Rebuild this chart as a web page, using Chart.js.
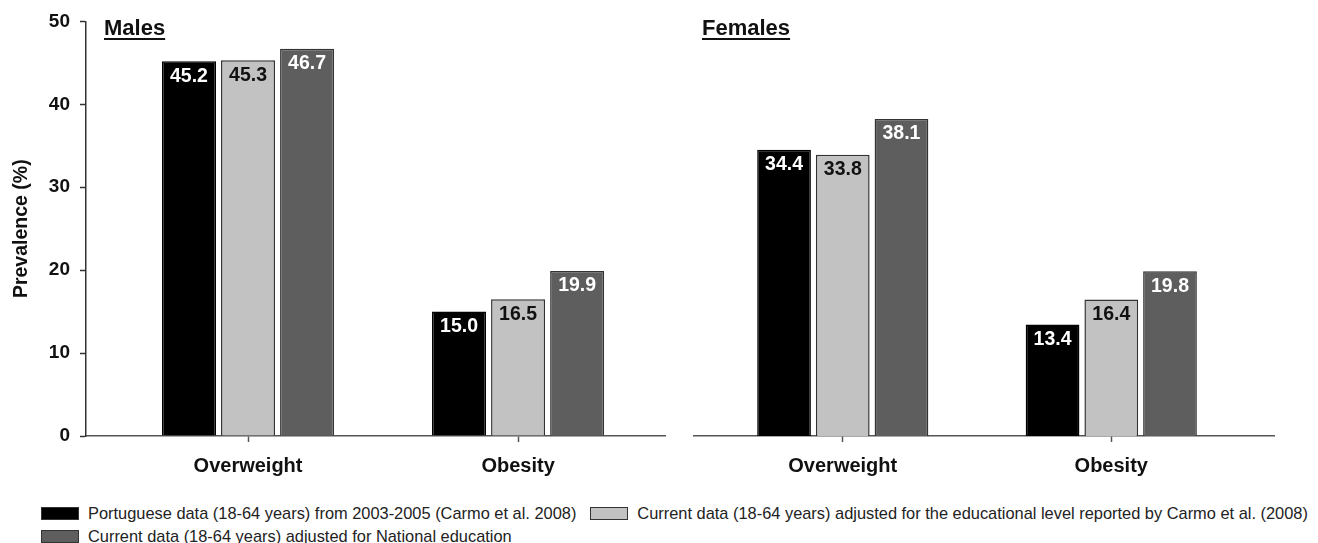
<!DOCTYPE html>
<html>
<head>
<meta charset="utf-8">
<script src="https://cdn.jsdelivr.net/npm/chart.js@4.4.1/dist/chart.umd.min.js"></script>
<style>
  body { margin: 0; background: #fff; width: 1318px; height: 543px; position: relative; overflow: hidden;
         font-family: Arial, "Liberation Sans", sans-serif; color: #111; }
  .panel { position: absolute; top: 0; height: 480px; }
  .title { position: absolute; top: 17px; font-weight: bold; font-size: 22px; line-height: 22px;
           text-decoration: underline; text-underline-offset: 3px; color: #111; }
  #legend { position: absolute; left: 41px; top: 502px; font-size: 16.4px; color: #222; white-space: nowrap; }
  .row { display: flex; align-items: center; height: 23px; }
  .item { display: flex; align-items: center; margin-right: 14px; }
  .box { width: 36px; height: 11px; border: 1px solid #333; margin-right: 9px; }
</style>
</head>
<body>
<div class="panel" style="left:0;width:680px"><canvas id="males"></canvas></div>
<div class="panel" style="left:680px;width:638px"><canvas id="females"></canvas></div>
<div class="title" style="left:104px">Males</div>
<div class="title" style="left:702px">Females</div>
<div id="legend"></div>

<script>
// categorias e séries
const categories = ['Overweight', 'Obesity'];
const seriesNames = [
  'Portuguese data (18-64 years) from 2003-2005 (Carmo et al. 2008)',
  'Current data (18-64 years) adjusted for the educational level reported by Carmo et al. (2008)',
  'Current data (18-64 years) adjusted for National education'
];
const malesCarmo2008 = [45.2, 15.0];
const malesAdjCarmo = [45.3, 16.5];
const malesAdjNational = [46.7, 19.9];
const femalesCarmo2008 = [34.4, 13.4];
const femalesAdjCarmo = [33.8, 16.4];
const femalesAdjNational = [38.1, 19.8];
const yTicks = [0, 10, 20, 30, 40, 50];

const fills = ['#000000', '#c2c2c2', '#5e5e5e'];
const borders = ['#000000', '#333333', '#333333'];
const labelColors = ['#ffffff', '#111111', '#ffffff'];

function makeDatasets(seriesValues) {
  return seriesValues.map((values, i) => ({
    label: seriesNames[i],
    data: values.map((v, j) => ({ x: j + 1, y: v })),
    backgroundColor: fills[i],
    borderColor: borders[i],
    borderWidth: 1.5,
    labelColor: labelColors[i],
    barPercentage: 0.915,
    categoryPercentage: 0.656
  }));
}

// rótulos de valor dentro das barras
const valueLabels = {
  id: 'valueLabels',
  afterDatasetsDraw(chart) {
    const ctx = chart.ctx;
    ctx.save();
    ctx.font = 'bold 19.5px Arial, "Liberation Sans"';
    ctx.textAlign = 'center';
    ctx.textBaseline = 'middle';
    chart.data.datasets.forEach((ds, i) => {
      chart.getDatasetMeta(i).data.forEach((bar, j) => {
        ctx.fillStyle = ds.labelColor;
        ctx.fillText(ds.data[j].y.toFixed(1), bar.x, bar.y + 15);
      });
    });
    ctx.restore();
  }
};

function makeChart(id, seriesValues, opts) {
  return new Chart(document.getElementById(id), {
    type: 'bar',
    data: { datasets: makeDatasets(seriesValues) },
    plugins: [valueLabels],
    options: {
      responsive: true,
      maintainAspectRatio: false,
      animation: false,
      layout: { padding: opts.padding },
      plugins: { legend: { display: false }, tooltip: { enabled: false } },
      scales: {
        x: {
          type: 'linear',
          min: opts.xMin,
          max: opts.xMax,
          offset: false,
          afterBuildTicks: s => { s.ticks = categories.map((c, i) => ({ value: i + 1 })); },
          afterFit: s => { s.height = 44; },
          ticks: {
            callback: v => categories[v - 1],
            font: { family: 'Arial, "Liberation Sans"', size: 20, weight: 'bold' },
            color: '#111',
            padding: 12,
            maxRotation: 0
          },
          grid: { display: true, drawOnChartArea: false, offset: false, tickLength: 6, tickColor: '#555', tickWidth: 1.5 },
          border: { color: '#555', width: 1.5 }
        },
        y: {
          display: opts.showY,
          min: 0,
          max: 50,
          afterBuildTicks: s => { s.ticks = yTicks.map(v => ({ value: v })); },
          afterFit: s => { s.width = opts.showY ? 86 : 0; },
          ticks: {
            font: { family: 'Arial, "Liberation Sans"', size: 19, weight: 'bold' },
            color: '#111',
            padding: 10
          },
          grid: { display: true, drawOnChartArea: false, tickLength: 6, tickColor: '#333', tickWidth: 1.5 },
          border: { color: '#333', width: 1.5 },
          title: {
            display: true,
            text: 'Prevalence (%)',
            font: { family: 'Arial, "Liberation Sans"', size: 19.5, weight: 'bold' },
            color: '#111',
            padding: { top: 10, bottom: 0 }
          }
        }
      }
    }
  });
}

makeChart('males', [malesCarmo2008, malesAdjCarmo, malesAdjNational],
  { padding: { top: 20, right: 15, left: 0, bottom: 0 }, xMin: 0.4, xMax: 2.544, showY: true });
makeChart('females', [femalesCarmo2008, femalesAdjCarmo, femalesAdjNational],
  { padding: { top: 20, right: 44, left: 14, bottom: 0 }, xMin: 0.446, xMax: 2.606, showY: false });

// legenda em HTML
const legendRows = [[0, 1], [2]];
const legend = document.getElementById('legend');
legendRows.forEach(row => {
  const r = document.createElement('div');
  r.className = 'row';
  row.forEach(i => {
    const it = document.createElement('div');
    it.className = 'item';
    it.innerHTML = `<span class="box" style="background:${fills[i]}"></span><span>${seriesNames[i]}</span>`;
    r.appendChild(it);
  });
  legend.appendChild(r);
});
</script>
</body>
</html>
